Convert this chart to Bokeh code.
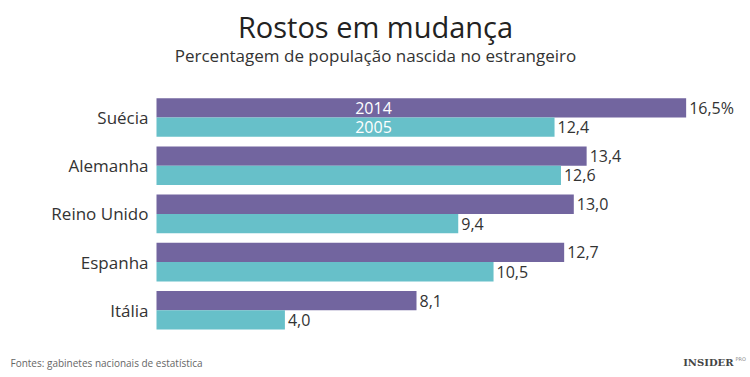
from bokeh.plotting import figure
from bokeh.models import ColumnDataSource, Range1d, Label
from bokeh.core.properties import value
from bokeh.embed import file_html
from bokeh.resources import INLINE

countries = ["Suécia", "Alemanha", "Reino Unido", "Espanha", "Itália"]
v2014 = [16.5, 13.4, 13.0, 12.7, 8.1]
v2005 = [12.4, 12.6, 9.4, 10.5, 4.0]
lab2014 = ["16,5%", "13,4", "13,0", "12,7", "8,1"]
lab2005 = ["12,4", "12,6", "9,4", "10,5", "4,0"]
series_names = ["2014", "2005"]

title = "Rostos em mudança"
subtitle = "Percentagem de população nascida no estrangeiro"
source_txt = "Fontes: gabinetes nacionais de estatística"

PURPLE = "#72659f"
TEAL = "#67c0c9"
TXT = "#333333"
FONT = "Open Sans"

W, H = 750, 377
x0_px, scale = 156.0, 32.1
pitch, first_center = 48.2, 117.0
bh = 0.40

p = figure(width=W, height=H, output_backend="svg", toolbar_location=None,
           min_border=0, x_axis_location=None, y_axis_location=None,
           outline_line_color=None, background_fill_color="white",
           border_fill_color="white")
p.x_range = Range1d(-x0_px / scale, (W - x0_px) / scale)
p.y_range = Range1d((H - first_center) / pitch, -first_center / pitch)
p.xgrid.visible = False
p.ygrid.visible = False

idx = list(range(len(countries)))
src = ColumnDataSource(dict(
    c=countries, idx=idx,
    y14=[i - bh / 2 for i in idx], y05=[i + bh / 2 for i in idx],
    v14=v2014, v05=v2005, l14=lab2014, l05=lab2005))

p.hbar(y="y14", left=0, right="v14", height=bh, source=src,
       fill_color=PURPLE, line_color=None)
p.hbar(y="y05", left=0, right="v05", height=bh, source=src,
       fill_color=TEAL, line_color=None)

p.text(x="v14", y="y14", text="l14", source=src, x_offset=3,
       text_baseline="middle", text_align="left", text_font=value(FONT),
       text_font_size="16px", text_color=TXT)
p.text(x="v05", y="y05", text="l05", source=src, x_offset=3,
       text_baseline="middle", text_align="left", text_font=value(FONT),
       text_font_size="16px", text_color=TXT)
p.text(x=0, y="idx", text="c", source=src, x_offset=-8,
       text_baseline="middle", text_align="right", text_font=value(FONT),
       text_font_size="17px", text_color=TXT)

# series names inside first bars
p.add_layout(Label(x=373, x_units="screen", y=-bh / 2, text=series_names[0],
                   text_align="center", text_baseline="middle",
                   text_font=FONT, text_font_size="16px", text_color="white"))
p.add_layout(Label(x=373, x_units="screen", y=bh / 2, text=series_names[1],
                   text_align="center", text_baseline="middle",
                   text_font=FONT, text_font_size="16px", text_color="white"))

p.add_layout(Label(x=W / 2, y=H - 26, x_units="screen", y_units="screen",
                   text=title, text_align="center", text_baseline="alphabetic",
                   text_font=FONT, text_font_size="29px", text_color="#222222"))
p.add_layout(Label(x=W / 2, y=H - 55, x_units="screen", y_units="screen",
                   text=subtitle, text_align="center", text_baseline="alphabetic",
                   text_font=FONT, text_font_size="17px", text_color=TXT))
p.add_layout(Label(x=10, y=H - 362, x_units="screen", y_units="screen",
                   text=source_txt, text_align="left", text_baseline="alphabetic",
                   text_font=FONT, text_font_size="10px", text_color="#666666"))
p.add_layout(Label(x=733, y=H - 362, x_units="screen", y_units="screen",
                   text="INSIDER", text_align="right", text_baseline="alphabetic",
                   text_font="DejaVu Serif", text_font_size="10px",
                   text_font_style="bold", text_color="#444444"))
p.add_layout(Label(x=735, y=H - 358, x_units="screen", y_units="screen",
                   text="PRO", text_align="left", text_baseline="alphabetic",
                   text_font="DejaVu Sans", text_font_size="5px",
                   text_color="#888888"))

open("out.html", "w").write(file_html(p, INLINE))
